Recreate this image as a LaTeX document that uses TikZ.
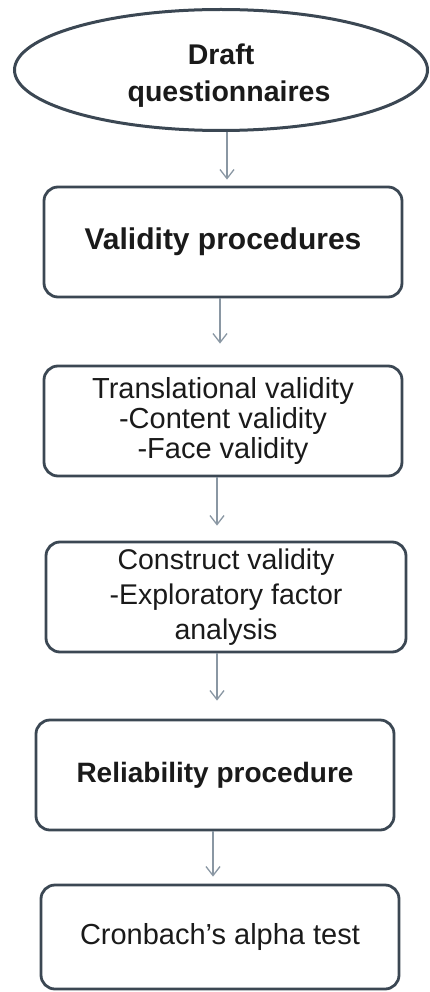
\documentclass[tikz,border=0pt]{standalone}
\usepackage{fontspec}
\setmainfont{Liberation Sans}
\usetikzlibrary{shapes.geometric,arrows.meta}
\definecolor{edgecol}{HTML}{3B4753}
\definecolor{arrowcol}{HTML}{8A97A3}
\definecolor{inkcol}{HTML}{1A1A1A}
\tikzset{
  stage/.style={draw=edgecol, line width=2.8pt, rounded corners=14pt,
    minimum width=358pt, minimum height=110pt, inner sep=0pt,
    align=center, text=inkcol, font=\fontsize{29}{30}\selectfont},
  flow/.style={draw=arrowcol, line width=1.3pt,
    -{Straight Barb[length=9pt,width=14pt,line width=1.3pt]}}
}
\begin{document}
\begin{tikzpicture}[x=1pt,y=-1pt]
\useasboundingbox (0,0) rectangle (430,992);

% start of the process
\node[ellipse, draw=edgecol, line width=3pt, minimum width=413pt,
      minimum height=121pt, inner sep=0pt, align=center, text=inkcol,
      font=\bfseries\fontsize{28.5}{37}\selectfont]
  (draft) at (221,70) {\rule{0pt}{32pt}Draft\\\hspace*{16pt}questionnaires};

% process steps
\node[stage, font=\bfseries\fontsize{30}{30}\selectfont]
  (valid) at (223,242) {Validity procedures};
\node[stage] (trans) at (223,421) {Translational validity\\-Content validity\\-Face validity};
\node[stage, minimum width=360pt, font=\fontsize{28.5}{35}\selectfont]
  (constr) at (226,597) {Construct validity\\-Exploratory factor\\analysis};
\node[stage, font=\bfseries\fontsize{28}{30}\selectfont]
  (relia) at (215,775) {Reliability procedure};
\node[stage, minimum height=104pt] (alpha) at (220,937) {Cronbach’s alpha test};

% connectors
\draw[flow, shorten >=6pt] ([xshift=6pt]draft.south) -- ([xshift=4pt]valid.north);
\draw[flow, shorten >=21pt] ([xshift=-3pt]valid.south) -- ([xshift=-3pt]trans.north);
\draw[flow, shorten >=15pt] ([xshift=-6pt]trans.south) -- ([xshift=-9pt]constr.north);
\draw[flow, shorten >=18pt] ([xshift=-9pt]constr.south) -- ([xshift=2pt]relia.north);
\draw[flow, shorten >=7pt] ([xshift=-2pt]relia.south) -- ([xshift=-7pt]alpha.north);
\end{tikzpicture}
\end{document}
